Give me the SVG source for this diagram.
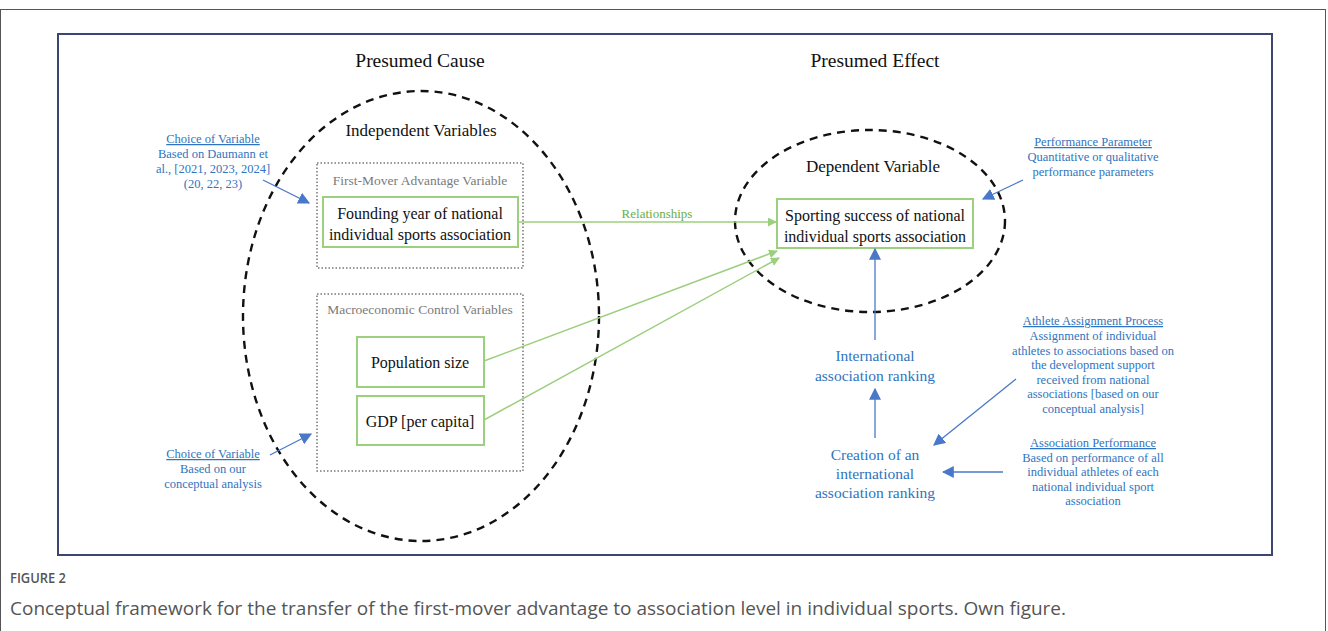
<svg xmlns="http://www.w3.org/2000/svg" width="1328" height="631" viewBox="0 0 1328 631">
  <defs>
    <style>
      .serif { font-family: "Liberation Serif", "Times New Roman", serif; }
      .head { font-size: 19.5px; fill: #111; text-anchor: middle; }
      .label { font-size: 16px; fill: #111; text-anchor: middle; }
      .group-title { font-size: 13.5px; fill: #7a7a7a; text-anchor: middle; }
      .note { font-size: 12.5px; fill: #2f74c0; text-anchor: middle; }
      .blue-big { font-size: 15.5px; fill: #2f74c0; text-anchor: middle; }
      .green-label { font-size: 13px; fill: #6aae45; text-anchor: middle; }
      .u { text-decoration: underline; }
      .green-box { fill: #fff; stroke: #9ccf7e; stroke-width: 2; }
      .dotted-box { fill: none; stroke: #777; stroke-width: 1.5; stroke-dasharray: 1.5 2; }
      .dash-ellipse { fill: none; stroke: #111; stroke-width: 2.4; stroke-dasharray: 8 6; }
      .green-line { stroke: #9ccf7e; stroke-width: 1.5; fill: none; }
      .blue-line { stroke: #4a78c8; stroke-width: 1.3; fill: none; }
      .caption { font-family: "Open Sans", "Noto Sans", sans-serif; fill: #555; }
    </style>
    <marker id="greenHead" viewBox="0 0 10 10" refX="9" refY="5" markerWidth="9" markerHeight="9" markerUnits="userSpaceOnUse" orient="auto">
      <path d="M0,0 L10,5 L0,10 z" fill="#9ccf7e"/>
    </marker>
    <marker id="blueHead" viewBox="0 0 10 10" refX="9" refY="5" markerWidth="12" markerHeight="12" markerUnits="userSpaceOnUse" orient="auto">
      <path d="M0,0 L10,5 L0,10 z" fill="#4a78c8"/>
    </marker>
  </defs>

  <rect width="1328" height="631" fill="#fff"/>
  <!-- page frame -->
  <rect x="0.5" y="9.5" width="1325" height="640" fill="none" stroke="#555" stroke-width="1"/>
  <!-- figure frame -->
  <rect x="58" y="34" width="1214" height="521" fill="#fff" stroke="#3c4670" stroke-width="2"/>

  <text class="serif head" x="420" y="67">Presumed Cause</text>
  <text class="serif head" x="875" y="67">Presumed Effect</text>

  <ellipse class="dash-ellipse" cx="421" cy="316" rx="178" ry="225"/>
  <ellipse class="dash-ellipse" cx="870" cy="221" rx="135" ry="91"/>

  <text class="serif label" x="421" y="136" style="font-size:17px">Independent Variables</text>
  <text class="serif label" x="873" y="172" style="font-size:17px">Dependent Variable</text>

  <!-- first-mover group -->
  <g id="first-mover-group">
    <rect class="dotted-box" x="317" y="163" width="206" height="105"/>
    <text class="serif group-title" x="420" y="185">First-Mover Advantage Variable</text>
  </g>
  <g id="founding-year">
    <rect class="green-box" x="323" y="197" width="195" height="50"/>
    <text class="serif label" x="420" y="219">Founding year of national</text>
    <text class="serif label" x="420" y="240">individual sports association</text>
  </g>

  <!-- macroeconomic group -->
  <g id="macro-group">
    <rect class="dotted-box" x="317" y="294" width="206" height="177"/>
    <text class="serif group-title" x="420" y="314">Macroeconomic Control Variables</text>
  </g>
  <g id="population">
    <rect class="green-box" x="357" y="337" width="127" height="50"/>
    <text class="serif label" x="420" y="368">Population size</text>
  </g>
  <g id="gdp">
    <rect class="green-box" x="357" y="396" width="127" height="49"/>
    <text class="serif label" x="420" y="427">GDP [per capita]</text>
  </g>

  <!-- dependent variable -->
  <g id="sporting-success">
    <rect class="green-box" x="777" y="199" width="196" height="49"/>
    <text class="serif label" x="875" y="221">Sporting success of national</text>
    <text class="serif label" x="875" y="242">individual sports association</text>
  </g>

  <g id="international-ranking">
    <text class="serif blue-big" x="875" y="361">International</text>
    <text class="serif blue-big" x="875" y="381">association ranking</text>
  </g>
  <g id="creation-ranking">
    <text class="serif blue-big" x="875" y="460">Creation of an</text>
    <text class="serif blue-big" x="875" y="479">international</text>
    <text class="serif blue-big" x="875" y="498">association ranking</text>
  </g>

  <!-- annotations -->
  <g id="note-choice-1">
    <text class="serif note" x="213" y="143"><tspan class="u">Choice of Variable</tspan></text>
    <text class="serif note" x="213" y="158">Based on Daumann et</text>
    <text class="serif note" x="213" y="173">al., [2021, 2023, 2024]</text>
    <text class="serif note" x="213" y="188">(20, 22, 23)</text>
  </g>
  <g id="note-choice-2">
    <text class="serif note" x="213" y="458"><tspan class="u">Choice of Variable</tspan></text>
    <text class="serif note" x="213" y="473">Based on our</text>
    <text class="serif note" x="213" y="488">conceptual analysis</text>
  </g>
  <g id="note-performance">
    <text class="serif note" x="1093" y="146"><tspan class="u">Performance Parameter</tspan></text>
    <text class="serif note" x="1093" y="161">Quantitative or qualitative</text>
    <text class="serif note" x="1093" y="176">performance parameters</text>
  </g>
  <g id="note-athlete">
    <text class="serif note" x="1093" y="325"><tspan class="u">Athlete Assignment Process</tspan></text>
    <text class="serif note" x="1093" y="340">Assignment of individual</text>
    <text class="serif note" x="1093" y="355">athletes to associations based on</text>
    <text class="serif note" x="1093" y="369">the development support</text>
    <text class="serif note" x="1093" y="384">received from national</text>
    <text class="serif note" x="1093" y="398">associations [based on our</text>
    <text class="serif note" x="1093" y="413">conceptual analysis]</text>
  </g>
  <g id="note-association">
    <text class="serif note" x="1093" y="447"><tspan class="u">Association Performance</tspan></text>
    <text class="serif note" x="1093" y="462">Based on performance of all</text>
    <text class="serif note" x="1093" y="476">individual athletes of each</text>
    <text class="serif note" x="1093" y="491">national individual sport</text>
    <text class="serif note" x="1093" y="505">association</text>
  </g>

  <!-- connectors -->
  <g id="connectors">
    <line class="green-line" x1="518" y1="222" x2="776" y2="222" marker-end="url(#greenHead)"/>
    <text class="serif green-label" x="657" y="218">Relationships</text>
    <line class="green-line" x1="484" y1="361" x2="777" y2="251" marker-end="url(#greenHead)"/>
    <line class="green-line" x1="484" y1="420" x2="779" y2="258" marker-end="url(#greenHead)"/>

    <line class="blue-line" x1="875" y1="340" x2="875" y2="249" marker-end="url(#blueHead)"/>
    <line class="blue-line" x1="875" y1="438" x2="875" y2="389" marker-end="url(#blueHead)"/>
    <line class="blue-line" x1="263" y1="180" x2="309" y2="203" marker-end="url(#blueHead)"/>
    <line class="blue-line" x1="270" y1="455" x2="311" y2="434" marker-end="url(#blueHead)"/>
    <line class="blue-line" x1="1023" y1="180" x2="983" y2="199" marker-end="url(#blueHead)"/>
    <line class="blue-line" x1="1016" y1="379" x2="934" y2="445" marker-end="url(#blueHead)"/>
    <line class="blue-line" x1="1003" y1="472" x2="943" y2="472" marker-end="url(#blueHead)"/>
  </g>

  <!-- caption -->
  <text class="caption" x="10" y="583" style="font-size:14px;font-weight:600" textLength="56" lengthAdjust="spacingAndGlyphs">FIGURE 2</text>
  <text class="caption" x="10" y="615" style="font-size:17.5px" textLength="1056" lengthAdjust="spacingAndGlyphs">Conceptual framework for the transfer of the first-mover advantage to association level in individual sports. Own figure.</text>
</svg>
